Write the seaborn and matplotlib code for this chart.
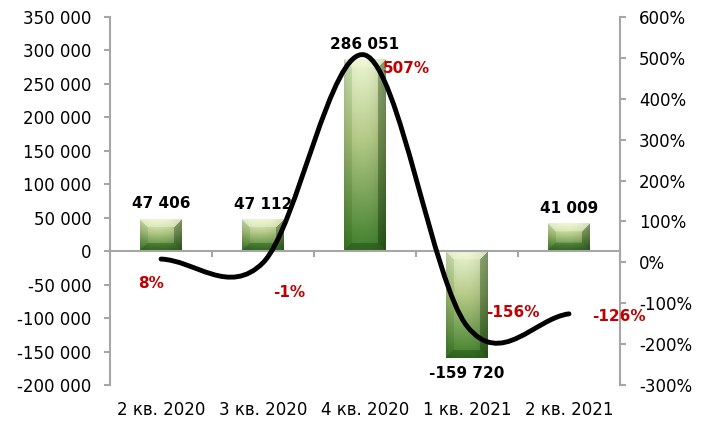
import numpy as np
import matplotlib
matplotlib.use("Agg")
import matplotlib.pyplot as plt
import matplotlib.transforms as mtransforms
from matplotlib.path import Path
from matplotlib.patches import PathPatch
from matplotlib.ticker import FuncFormatter, MultipleLocator
import seaborn as sns

# Данные
quarters = ["2 кв. 2020", "3 кв. 2020", "4 кв. 2020", "1 кв. 2021", "2 кв. 2021"]
values = [47406, 47112, 286051, -159720, 41009]
growth_pct = [8, -1, 507, -156, -126]
# смещения подписей процентов (в пикселях) относительно точек линии
pct_offsets = [(-10, -24), (26, -30), (41, -13), (46, 14), (50, -3)]

GREY = "#a6a6a6"
RED = "#c00000"

sns.set_theme(style="white")
plt.rcParams["font.family"] = ["DejaVu Sans"]

fig = plt.figure(figsize=(7.06, 4.25), dpi=100)
ax = fig.add_axes([110 / 706, 1 - 385 / 425, 510 / 706, 368 / 425])

sns.barplot(x=quarters, y=values, ax=ax, width=0.41, color="#5a8a3a", zorder=2)
ax.set_xlim(-0.5, 4.5)
ax.set_ylim(-200000, 350000)


def bar_image(w, h):
    ys = np.linspace(0, 1, h)[:, None]
    xs = np.linspace(0, 1, w)[None, :]
    stops = [0.0, 0.4, 1.0]
    cols = np.array([[0.92, 0.96, 0.82], [0.72, 0.80, 0.54], [0.25, 0.50, 0.17]])
    base = np.stack([np.interp(ys, stops, cols[:, k]) for k in range(3)], axis=-1)
    shade = 1 - 0.6 * np.abs(xs - 0.42) ** 2.2
    img = base * shade[..., None]
    img = np.broadcast_to(img, (h, w, 3)).copy()
    b = max(2, min(8, h // 2, w // 2))
    i = np.arange(h)[:, None] * np.ones((1, w))
    j = np.ones((h, 1)) * np.arange(w)[None, :]
    d = np.stack([i, h - 1 - i, j, w - 1 - j])
    which = d.argmin(axis=0)
    band = d.min(axis=0) < b
    top = band & (which == 0)
    bot = band & (which == 1)
    lft = band & (which == 2)
    rgt = band & (which == 3)
    img[top] = img[top] + (np.array([0.95, 0.98, 0.85]) - img[top]) * 0.4
    img[bot] = img[bot] * np.array([0.72, 0.8, 0.7])
    img[lft] = img[lft] * np.array([0.88, 0.93, 0.86])
    img[rgt] = img[rgt] * np.array([0.66, 0.74, 0.62])
    return np.clip(img, 0, 1)


for patch in ax.patches:
    x0, y0 = patch.get_x(), patch.get_y()
    x1, y1 = x0 + patch.get_width(), y0 + patch.get_height()
    ylo, yhi = min(y0, y1), max(y0, y1)
    (px0, py0), (px1, py1) = ax.transData.transform([(x0, ylo), (x1, yhi)])
    w = max(2, int(round(px1 - px0)))
    h = max(2, int(round(py1 - py0)))
    patch.set_facecolor("none")
    patch.set_edgecolor("none")
    ax.imshow(bar_image(w, h), extent=(x0, x1, ylo, yhi), aspect="auto",
              origin="upper", zorder=2, interpolation="bilinear")

ax.set_xlim(-0.5, 4.5)
ax.set_ylim(-200000, 350000)

# подписи значений столбцов
for i, v in enumerate(values):
    label = f"{v:,}".replace(",", " ")
    if v >= 0:
        ax.annotate(label, (i, v), xytext=(0, 8), textcoords="offset pixels",
                    ha="center", va="bottom", fontsize=11, fontweight="bold", color="black")
    else:
        ax.annotate(label, (i, v), xytext=(0, -8), textcoords="offset pixels",
                    ha="center", va="top", fontsize=11, fontweight="bold", color="black")

# оси
for side in ["top", "right"]:
    ax.spines[side].set_visible(False)
ax.spines["left"].set_color(GREY)
ax.spines["left"].set_linewidth(1.5)
ax.spines["bottom"].set_position(("data", 0))
ax.spines["bottom"].set_color(GREY)
ax.spines["bottom"].set_linewidth(1.5)
ax.yaxis.set_major_locator(MultipleLocator(50000))
ax.yaxis.set_major_formatter(FuncFormatter(lambda v, p: f"{int(v):,}".replace(",", " ")))
ax.tick_params(axis="y", which="major", direction="out", length=4.5, width=1.5,
               color=GREY, labelsize=12, labelcolor="black", pad=9, left=True)
ax.set_xticks([0.5, 1.5, 2.5, 3.5, 4.5])
ax.set_xticklabels([])
ax.tick_params(axis="x", which="major", direction="out", length=4.5, width=1.5,
               color=GREY, bottom=True)
ax.set_xlabel("")
ax.set_ylabel("")
ax.grid(False)

trans = mtransforms.blended_transform_factory(ax.transData, ax.transAxes)
for i, q in enumerate(quarters):
    ax.text(i, -0.068, q, transform=trans, ha="center", va="center", fontsize=12, color="black")

# вторая ось: темп прироста
ax2 = ax.twinx()
ax2.set_ylim(-300, 600)
ax2.yaxis.set_major_locator(MultipleLocator(100))
ax2.yaxis.set_major_formatter(FuncFormatter(lambda v, p: f"{int(v)}%"))
for side in ["top", "left", "bottom"]:
    ax2.spines[side].set_visible(False)
ax2.spines["right"].set_color(GREY)
ax2.spines["right"].set_linewidth(1.5)
ax2.tick_params(axis="y", direction="out", length=4.5, width=1.5, color=GREY,
                labelsize=12, labelcolor="black", pad=9, right=True)
ax2.grid(False)

# сглаженная линия (кривые Безье, как в Excel)
pts = np.column_stack([np.arange(len(growth_pct)), growth_pct]).astype(float)
verts = [pts[0]]
codes = [Path.MOVETO]
n = len(pts)
for k in range(n - 1):
    p0 = pts[k - 1] if k > 0 else pts[k]
    p1, p2 = pts[k], pts[k + 1]
    p3 = pts[k + 2] if k + 2 < n else pts[k + 1]
    c1 = p1 + (p2 - p0) / 6 if k > 0 else p1 + (p2 - p1) / 3
    c2 = p2 - (p3 - p1) / 6 if k + 2 < n else p2 - (p2 - p1) / 3
    verts += [c1, c2, p2]
    codes += [Path.CURVE4] * 3
ax2.add_patch(PathPatch(Path(verts, codes), facecolor="none", edgecolor="black",
                        lw=3.5, capstyle="round", zorder=3))

for i, (p, off) in enumerate(zip(growth_pct, pct_offsets)):
    ax2.annotate(f"{p}%", (i, p), xytext=off, textcoords="offset pixels",
                 ha="center", va="center", fontsize=11, fontweight="bold", color=RED, zorder=4)

fig.savefig("out.png", dpi=100)
